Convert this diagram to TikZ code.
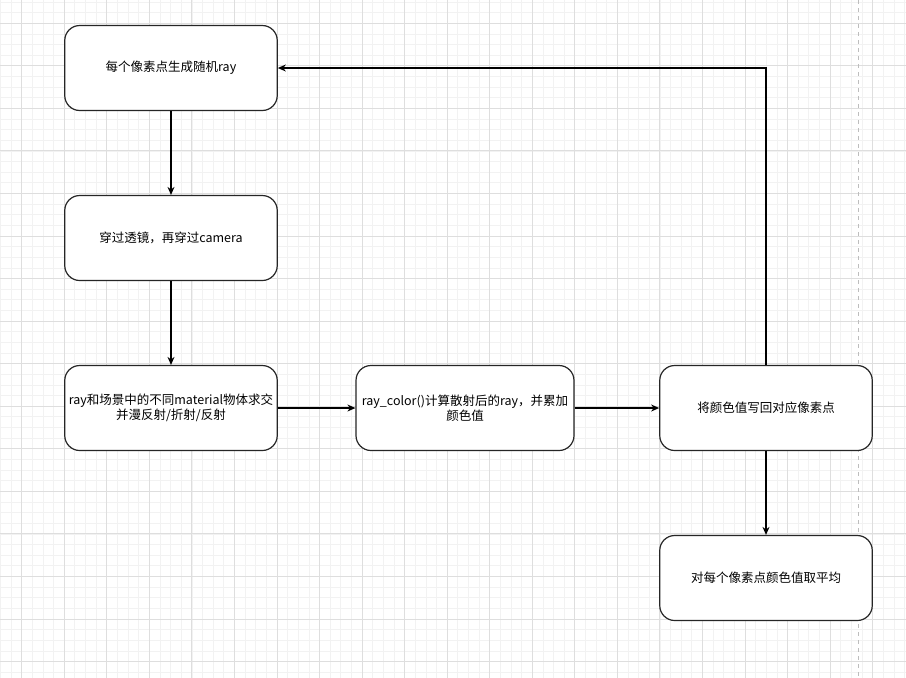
\documentclass[tikz,border=0pt]{standalone}
\usepackage{fontspec}
\newfontfamily\cjk{Noto Sans CJK SC}
\usetikzlibrary{arrows.meta}
\definecolor{gridmajor}{HTML}{DEDEDE}
\definecolor{gridminor}{HTML}{F2F2F2}
\definecolor{dashgrey}{HTML}{BDBDBD}
\tikzset{
  box/.style={draw=black!85, line width=1.2pt, fill=white, rounded corners=15pt,
    minimum width=212.5pt, minimum height=85pt, align=center, inner sep=0pt,
    font=\cjk\fontsize{12.5}{14.6}\selectfont},
  conn/.style={draw=black, line width=1.25pt, -{Stealth[length=8pt,width=7pt]}},
}
\begin{document}
\begin{tikzpicture}[x=1pt,y=-1pt]
\useasboundingbox (0,0) rectangle (906,678);
\fill[white] (0,0) rectangle (906,678);
\begin{scope}
\clip (0,0) rectangle (906,678);
\foreach \i in {-3,...,86}{
  \pgfmathsetmacro\xx{21.7+\i*10.6375}
  \pgfmathsetmacro\yy{23.3+\i*10.6375}
  \draw[gridminor, line width=0.8pt] (\xx,0) -- (\xx,678);
  \draw[gridminor, line width=0.8pt] (0,\yy) -- (906,\yy);
}
\foreach \i in {-1,...,22}{
  \pgfmathsetmacro\xx{21.7+\i*42.55}
  \pgfmathsetmacro\yy{23.3+\i*42.55}
  \draw[gridmajor, line width=1pt] (\xx,0) -- (\xx,678);
  \draw[gridmajor, line width=1pt] (0,\yy) -- (906,\yy);
}
\draw[dashgrey, line width=1pt, dash pattern=on 4pt off 4pt] (858.7,0) -- (858.7,678);
\end{scope}

\node[box] (n1) at (171,68) {每个像素点生成随机ray};
\node[box] (n2) at (171,238) {穿过透镜，再穿过camera};
\node[box] (n3) at (171,408) {ray和场景中的不同material物体求交\\并漫反射/折射/反射};
\node[box, minimum width=218pt] (n4) at (465,408) {ray\_color()计算散射后的ray，并累加\\颜色值};
\node[box] (n5) at (766,408) {将颜色值写回对应像素点};
\node[box] (n6) at (766,578) {对每个像素点颜色值取平均};

\draw[conn] (n1) -- (n2);
\draw[conn] (n2) -- (n3);
\draw[conn] (n3) -- (n4);
\draw[conn] (n4) -- (n5);
\draw[conn] (n5) -- (n6);
\draw[conn] (n5.north) |- (n1.east);
\end{tikzpicture}
\end{document}
